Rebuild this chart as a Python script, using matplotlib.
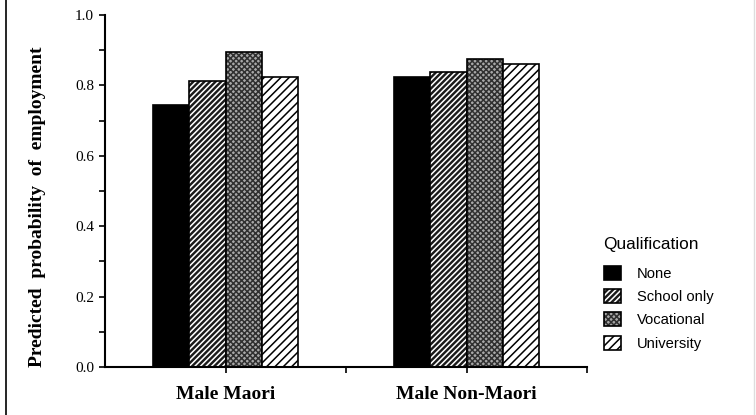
import numpy as np
import matplotlib
matplotlib.use("Agg")
import matplotlib.pyplot as plt
from matplotlib.lines import Line2D
from matplotlib.legend_handler import HandlerTuple

# data
groups = ["Male Maori", "Male Non-Maori"]
qualifications = ["None", "School only", "Vocational", "University"]
none_vals = [0.744, 0.824]
school_vals = [0.812, 0.837]
vocational_vals = [0.894, 0.875]
university_vals = [0.823, 0.860]
series = [none_vals, school_vals, vocational_vals, university_vals]

# fill, hatch, hatch colour per qualification
styles = [
    ("black", "", "black"),
    ("#1a1a1a", "//////", "white"),
    ("#a8a8a8", "xxxxxx", "#303030"),
    ("white", "////", "black"),
]

plt.rcParams["hatch.linewidth"] = 1.1
serif = ["Liberation Serif", "DejaVu Serif"]
sans = ["Liberation Sans", "DejaVu Sans"]

fig = plt.figure(figsize=(7.56, 4.15), dpi=100)
ax = fig.add_axes([105 / 756, 1 - 367 / 415, 482 / 756, 352 / 415])

x = np.arange(len(groups))
w = 0.15
handles = []
for i, vals in enumerate(series):
    fc, hatch, hc = styles[i]
    pos = x + (i - 1.5) * w
    fill = ax.bar(pos, vals, w, color=fc, hatch=hatch, edgecolor=hc, linewidth=0)
    edge = ax.bar(pos, vals, w, fill=False, edgecolor="black", linewidth=1.2)
    handles.append((fill[0], edge[0]))

ax.set_xlim(-0.5, 1.5)
ax.set_ylim(0, 1.0)
ax.set_yticks(np.arange(0, 1.01, 0.2))
ax.set_yticks(np.arange(0.1, 1.0, 0.2), minor=True)
ax.set_yticklabels(["%.1f" % v for v in np.arange(0, 1.01, 0.2)], fontfamily=serif, fontsize=11)
ax.set_xticks(x)
ax.set_xticks([0.5, 1.5], minor=True)
ax.set_xticklabels(groups, fontfamily=serif, fontsize=14, fontweight="bold")
ax.tick_params(axis="both", which="both", direction="out", length=4, width=1.2)
ax.tick_params(axis="x", pad=10)
ax.tick_params(axis="y", pad=4)
for s in ["top", "right"]:
    ax.spines[s].set_visible(False)
for s in ["left", "bottom"]:
    ax.spines[s].set_linewidth(1.5)

ax.set_ylabel("Predicted  probability  of  employment", fontfamily=serif,
              fontsize=14, fontweight="bold", va="center")
ax.yaxis.set_label_coords(-67 / 482, 0.455)

# legend title drawn separately so its gap to the entries can be set
fig.text(603 / 756, 1 - 244 / 415, "Qualification", family=sans, size=12.4,
         ha="left", va="center")
leg = fig.legend(handles, qualifications, handler_map={tuple: HandlerTuple(ndivide=1)},
                 loc="upper left", bbox_to_anchor=(604 / 756, 1 - 266 / 415),
                 frameon=False, prop={"family": sans, "size": 10.6},
                 borderpad=0, borderaxespad=0, handlelength=1.15, handleheight=1.1,
                 handletextpad=1.1, labelspacing=0.55)

# page border
fig.add_artist(Line2D([6 / 756, 6 / 756], [0, 1], transform=fig.transFigure, color="black", lw=1.2))
fig.add_artist(Line2D([754 / 756, 754 / 756], [0, 1], transform=fig.transFigure, color="#dddddd", lw=1))

fig.savefig("out.png", dpi=100)
